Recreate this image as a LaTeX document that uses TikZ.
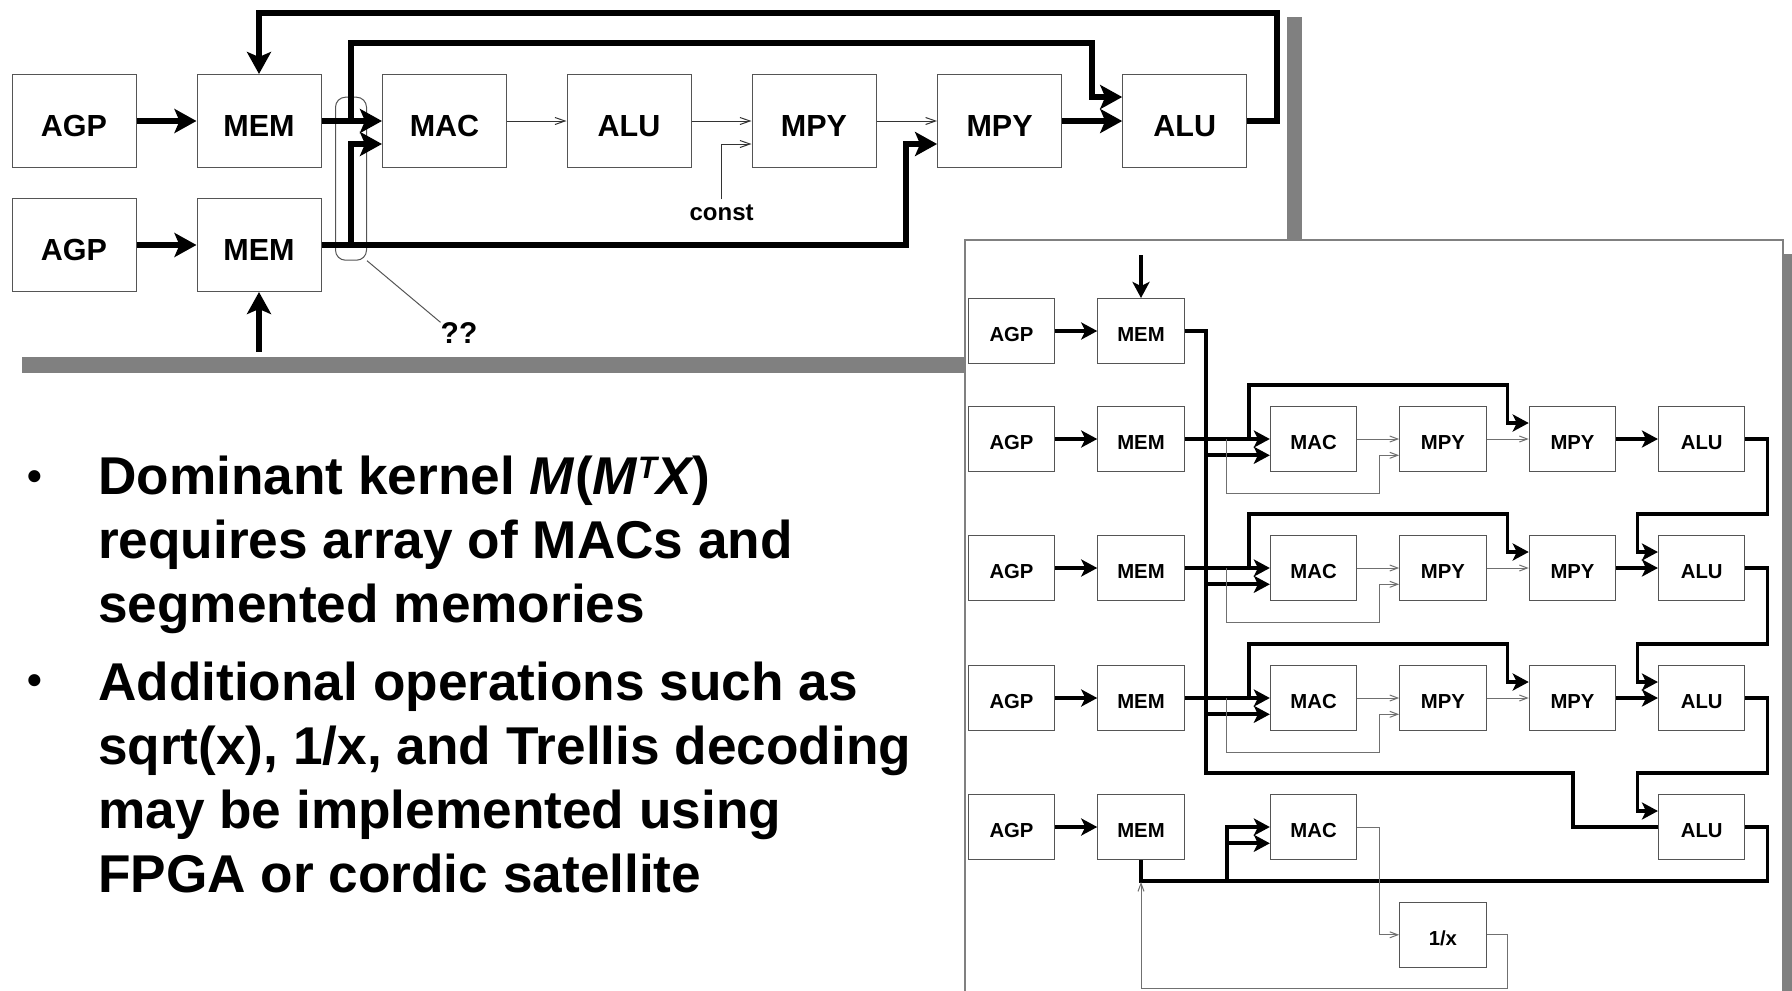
\documentclass[tikz,border=0pt]{standalone}
\usepackage{fontspec}
\setmainfont{Liberation Sans}
\usetikzlibrary{arrows.meta,positioning,calc}
\definecolor{shgray}{HTML}{808080}
\definecolor{edgegray}{HTML}{555555}
\definecolor{wiregray}{HTML}{707070}
\tikzset{
  bx/.style={draw=edgegray, line width=1pt, fill=white, inner sep=0pt, text depth=0pt},
  bigbx/.style={bx, minimum width=124pt, minimum height=93pt, text height=30pt, font=\fontsize{30.5}{30.5}\selectfont\bfseries},
  smbx/.style={bx, minimum width=86.5pt, minimum height=65pt, text height=20.5pt, font=\fontsize{20.3}{20.3}\selectfont\bfseries},
  arrA/.style={-{Stealth[length=22pt, width=24pt, inset=5pt]}, line width=6pt, color=black},
  arrB/.style={-{Stealth[length=16pt, width=17pt, inset=4pt]}, line width=3.8pt, color=black},
  lineB/.style={line width=3.8pt, color=black},
  thinA/.style={-{Straight Barb[length=10pt, width=7pt]}, line width=1pt, color=black!80},
  thinB/.style={-{Straight Barb[length=8pt, width=6pt]}, line width=1pt, color=wiregray},
  lbl/.style={font=\fontsize{24}{24}\selectfont\bfseries, inner sep=5pt},
  para/.style={anchor=north west, inner sep=0pt, align=left, font=\fontsize{53.2}{64}\selectfont\bfseries},
  dot/.style={font=\fontsize{42}{42}\selectfont\bfseries, inner sep=0pt},
}
\begin{document}
\begin{tikzpicture}[x=1pt, y=-1pt]
    \useasboundingbox (0,0) rectangle (1792,991);
    \fill[shgray] (22,357) rectangle (970,373);
    \fill[shgray] (1287.3,16.7) rectangle (1302,245);

    \node[bigbx] (ta1) at (74,121) {AGP};
    \node[bigbx] (tm1) at (259,121) {MEM};
    \node[bigbx] (ta2) at (74,245) {AGP};
    \node[bigbx] (tm2) at (259,245) {MEM};
    \node[bigbx] (tmac) at (444.5,121) {MAC};
    \node[bigbx] (talu) at (629,121) {ALU};
    \node[bigbx] (tmpa) at (814,121) {MPY};
    \node[bigbx] (tmpb) at (999.6,121) {MPY};
    \node[bigbx] (talub) at (1184.7,121) {ALU};
    \node[lbl] (cst) at (721.6,212.5) {const};
    \node[font=\fontsize{30}{30}\selectfont\bfseries, inner sep=0pt] (qq) at (459,333) {??};
    \node[draw=edgegray, line width=1pt, rounded corners=10pt, minimum width=31pt, minimum height=163pt, inner sep=0pt] (oval) at (351,178.7) {};
    \coordinate (tj1) at (351,121);
    \coordinate (tj2) at (351,245);
    \coordinate (tin) at (259,352);

    \foreach \a/\b in {ta1/tm1,ta2/tm2,tm1/tmac,tmpb/talub} \draw[arrA] (\a) -- (\b);
    \foreach \a/\b in {tmac/talu,talu/tmpa,tmpa/tmpb} \draw[thinA] (\a) -- (\b);
    \draw[arrA] (tin) -- (tm2.south);
    \draw[arrA] (talub.east) -| (1277,12.5) -| (tm1.north);
    \draw[arrA] (tj1) |- (1092,43) |- ($(talub.west)+(0,-24)$);
    \draw[arrA] (tj2) |- ($(tmac.west)+(0,23)$);
    \draw[arrA] (tm2.east) -- (905.7,245) |- ($(tmpb.west)+(0,23)$);
    \draw[thinA] (cst.north) |- ($(tmpa.west)+(0,23)$);
    \draw[line width=1pt, color=edgegray] (oval.south east) -- (qq.north west);

    \fill[white] (964.5,240) rectangle (1783,1000);
    \draw[shgray, line width=2pt] (964.5,1000) -- (964.5,240) -- (1783,240) -- (1783,1000);
    \fill[shgray] (1784,254) rectangle (1792,991);

    \coordinate (bus) at (1205.6,0);
    \coordinate (jt) at (1248.6,0);
    \coordinate (jg) at (1226.8,0);
    \coordinate (min) at (1141,255);
    \coordinate (bot) at (1226.8,880.7);

    \foreach \r/\yy in {1/331,2/439,3/568,4/698,5/827} {
      \node[smbx] (a\r) at (1011.5,\yy) {AGP};
      \node[smbx] (m\r) at (1141,\yy) {MEM};
      \draw[arrB] (a\r) -- (m\r);
    }
    \foreach \r/\yy in {2/439,3/568,4/698} {
      \node[smbx] (mc\r) at (1313.6,\yy) {MAC};
      \node[smbx] (pa\r) at (1442.9,\yy) {MPY};
      \node[smbx] (pb\r) at (1572.5,\yy) {MPY};
      \node[smbx] (alu\r) at (1701.7,\yy) {ALU};
      \coordinate (lo\r) at ($(mc\r.west)+(0,16.3)$);
      \draw[arrB] (m\r.east) -- (mc\r.west);
      \draw[arrB] (bus |- lo\r) -- (lo\r);
      \draw[arrB] (jt |- m\r.east) |- (1507.5,\yy-54.3) |- ($(pb\r.west)+(0,-16)$);
      \draw[thinB] (jg |- m\r.east) |- (1379,\yy+54.5) |- ($(pa\r.west)+(0,16.3)$);
      \draw[thinB] (mc\r) -- (pa\r);
      \draw[thinB] (pa\r) -- (pb\r);
      \draw[arrB] (pb\r) -- (alu\r);
    }
    \node[smbx] (mc5) at (1313.6,827) {MAC};
    \node[smbx] (alu5) at (1701.7,827) {ALU};
    \node[smbx] (inv) at (1442.9,934.8) {1/x};
    \coordinate (lo5) at ($(mc5.west)+(0,16.3)$);

    \foreach \a/\b/\yy in {2/3/568,3/4/698,4/5/827}
      \draw[arrB] (alu\a.east) -| (1767.4,\yy-54.3) -| (1637.5,\yy-16) -- ($(alu\b.west)+(0,-16)$);
    \draw[arrB] (min) -- (m1.north);
    \draw[lineB] (m1.east) -| (1205.6,772.7) -| (1573.3,827) -- (alu5.west);
    \draw[lineB] (alu5.east) -| (1767.4,880.7) -| (m5.south);
    \draw[arrB] (bot) |- (mc5.west);
    \draw[arrB] (bot |- lo5) -- (lo5);
    \draw[thinB] (mc5.east) -| (1379,934.8) -- (inv.west);
    \draw[thinB] (inv.east) -| (1507.5,988.3) -| (1141,882);

    \node[para] (p1) at (98,456) {Dominant kernel \textit{M}(\textit{M}\raisebox{16pt}{\fontsize{31}{31}\selectfont\itshape T}{\itshape X})\\requires array of MACs and\\segmented memories};
    \node[para] (p2) at (98,662) {Additional operations such as\\sqrt(x), 1/x, and Trellis decoding\\may be implemented using\\FPGA or cordic satellite};
    \node[dot] (b1) at (34.5,481) {•};
    \node[dot] (b2) at (34.5,685) {•};
  \end{tikzpicture}
\end{document}
